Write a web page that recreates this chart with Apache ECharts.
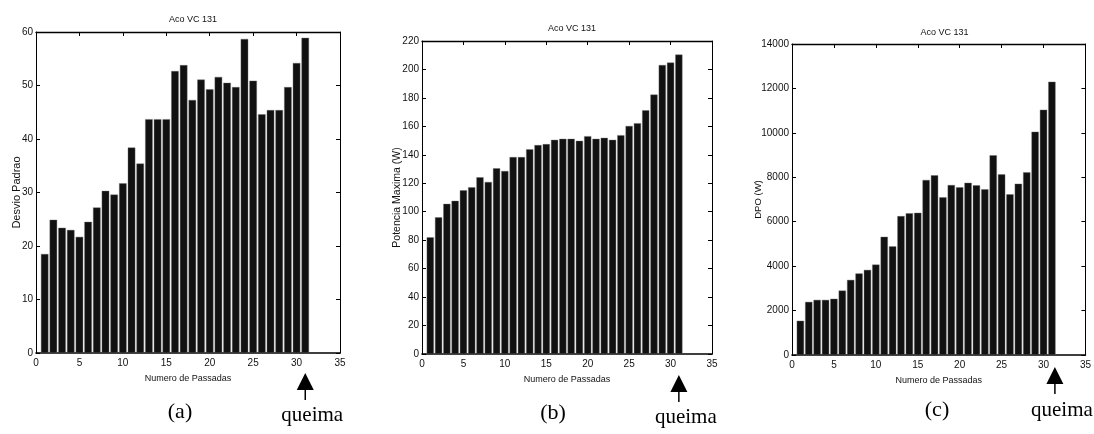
<!DOCTYPE html>
<html>
<head>
<meta charset="utf-8">
<script src="https://cdn.jsdelivr.net/npm/echarts@6/dist/echarts.min.js"></script>
<style>
html,body{margin:0;padding:0;background:#fff;}
#main{width:1094px;height:434px;}
</style>
</head>
<body>
<div id="main"></div>
<script>
// ---- data ----
const passes = [1,2,3,4,5,6,7,8,9,10,11,12,13,14,15,16,17,18,19,20,21,22,23,24,25,26,27,28,29,30,31];
const desvioPadrao = [18.5,24.9,23.4,23.0,21.7,24.5,27.2,30.3,29.6,31.7,38.4,35.4,43.7,43.7,43.7,52.7,53.8,47.3,51.1,49.3,51.6,50.5,49.7,58.7,50.9,44.6,45.4,45.4,49.7,54.2,58.9];
const potenciaMaxima = [82,96,105.5,107.6,115,117.2,124.2,120.9,130.5,128.6,138.4,138.4,143.8,146.8,147.5,150.5,151.2,151.2,149.8,153.1,151.2,151.9,150.5,153.8,160.3,162.2,171.3,182.3,203.1,204.8,210.4];
const dpo = [1540,2390,2480,2480,2530,2900,3380,3670,3830,4070,5320,4890,6250,6380,6400,7880,8090,7100,7650,7550,7750,7640,7460,8990,8130,7230,7710,8220,10050,11040,12300];
const titles = ['Aco VC 131','Aco VC 131','Aco VC 131'];
const yNames = ['Desvio Padrao','Potencia Maxima (W)','DPO (W)'];
const xName = 'Numero de Passadas';
const panelLabels = ['(a)','(b)','(c)'];
const burnLabel = 'queima';
const burnPass = 31;
const yMax = [60,220,14000];
const yInterval = [10,20,2000];
const xMin = 0, xMax = 35, xInterval = 5;

// ---- layout (styles) ----
const grids = [
  {left:36, top:32, width:304, height:321},
  {left:422, top:41, width:290, height:313},
  {left:792, top:44, width:295, height:311}
];
const titleY = [10, 19, 23];
const yNameGap = [14, 19, 29];
const yNameSize = [11, 10.5, 9.5];
const arrowOffset = [20, 21, 12];
const arrowShift = [0, 0, 3];
const labelPos = [[180,412],[553,413],[937,410]];
const queimaY = [415,417,410];

const seriesData = [desvioPadrao, potenciaMaxima, dpo];
const FONT = '"Liberation Sans", Arial, sans-serif';
const SERIF = '"Liberation Serif", "Times New Roman", serif';

const chart = echarts.init(document.getElementById('main'), null, {renderer:'canvas'});

const option = {
  animation:false,
  backgroundColor:'#fff',
  title:[], grid:[], xAxis:[], yAxis:[], series:[]
};

const tickStyle = {show:true, inside:true, length:4, lineStyle:{color:'#000', width:1}};
const plain = v => String(v);

grids.forEach((g,i)=>{
  option.grid.push({left:g.left, top:g.top, width:g.width, height:g.height, containLabel:false});
  option.title.push({
    text:titles[i], left:g.left + g.width/2, top:titleY[i], textAlign:'center',
    textStyle:{fontFamily:FONT, fontSize:9, fontWeight:'normal', color:'#111'}
  });
  option.xAxis.push({
    type:'value', gridIndex:i, position:'bottom', min:xMin, max:xMax, interval:xInterval,
    axisLine:{show:true, onZero:false, lineStyle:{color:'#000', width:1.6}},
    axisTick:tickStyle, splitLine:{show:false},
    axisLabel:{fontFamily:FONT, fontSize:10, color:'#111', margin:5, formatter:plain},
    name:xName, nameLocation:'middle', nameGap:21, nameMoveOverlap:false,
    nameTextStyle:{fontFamily:FONT, fontSize:9, color:'#111'}
  });
  option.xAxis.push({
    type:'value', gridIndex:i, position:'top', min:xMin, max:xMax, interval:xInterval,
    axisLine:{show:true, onZero:false, lineStyle:{color:'#000', width:1.3}},
    axisTick:tickStyle, splitLine:{show:false}, axisLabel:{show:false}
  });
  option.yAxis.push({
    type:'value', gridIndex:i, position:'left', min:0, max:yMax[i], interval:yInterval[i],
    axisLine:{show:true, onZero:false, lineStyle:{color:'#000', width:1}},
    axisTick:tickStyle, splitLine:{show:false},
    axisLabel:{fontFamily:FONT, fontSize:10, color:'#111', margin:3, formatter:plain},
    name:yNames[i], nameLocation:'middle', nameGap:yNameGap[i], nameRotate:90, nameMoveOverlap:false,
    nameTextStyle:{fontFamily:FONT, fontSize:yNameSize[i], color:'#111'}
  });
  option.yAxis.push({
    type:'value', gridIndex:i, position:'right', min:0, max:yMax[i], interval:yInterval[i],
    axisLine:{show:true, onZero:false, lineStyle:{color:'#000', width:1}},
    axisTick:tickStyle, splitLine:{show:false}, axisLabel:{show:false}
  });
  const unit = g.width / (xMax - xMin);
  option.series.push({
    type:'bar', xAxisIndex:2*i, yAxisIndex:2*i,
    data: passes.map((p,k)=>[p, seriesData[i][k]]),
    barWidth: unit*0.86,
    itemStyle:{color:'#111', borderColor:'#6a6a6a', borderWidth:0.4},
    silent:true
  });
});

chart.setOption(option);

const graphics = [];
grids.forEach((g,i)=>{
  const p = chart.convertToPixel({seriesIndex:i}, [burnPass, 0]);
  const ax = p[0] + arrowShift[i];
  const y0 = p[1] + arrowOffset[i];
  graphics.push({
    type:'polygon', silent:true,
    shape:{points:[[ax-8.5, y0+17],[ax, y0],[ax+8.5, y0+17]]},
    style:{fill:'#000'}
  });
  graphics.push({
    type:'line', silent:true,
    shape:{x1:ax, y1:y0+16, x2:ax, y2:y0+27},
    style:{stroke:'#000', lineWidth:1.5}
  });
  graphics.push({
    type:'text', silent:true, x:ax+7, y:queimaY[i],
    style:{text:burnLabel, font:'21px ' + SERIF, fill:'#000', textAlign:'center', textVerticalAlign:'middle'}
  });
  graphics.push({
    type:'text', silent:true, x:labelPos[i][0], y:labelPos[i][1],
    style:{text:panelLabels[i], font:'22px ' + SERIF, fill:'#000', textAlign:'center', textVerticalAlign:'middle'}
  });
});
chart.setOption({graphic:graphics});
</script>
</body>
</html>
